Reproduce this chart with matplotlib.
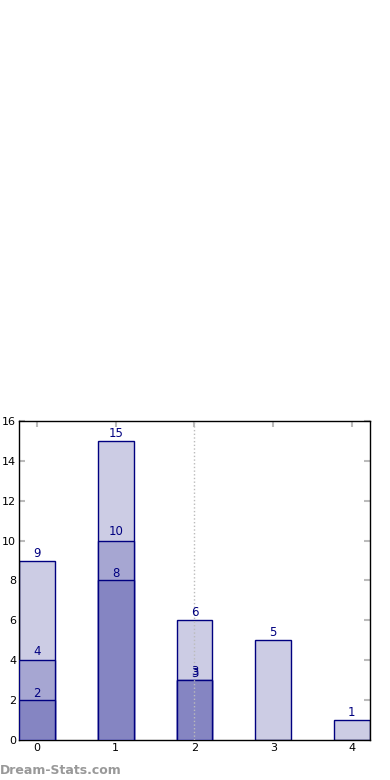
import numpy as np
import matplotlib
matplotlib.use("Agg")
import matplotlib.pyplot as plt

categories = [0, 1, 2, 3, 4]
light_vals = [9, 15, 6, 5, 1]
mid_vals = [4, 10, 3, 0, 0]
dark_vals = [2, 8, 3, 0, 0]
yticks = [0, 2, 4, 6, 8, 10, 12, 14, 16]

fig = plt.figure(figsize=(3.9, 7.8), dpi=100)
ax = fig.add_axes([0.0487, 0.0513, 0.9, 0.409])

w = 0.45
edge = "#000080"
series = [(light_vals, "#ccccE4", 2, 0.05),
          (mid_vals, "#a6a6d2", 3, 0.12),
          (dark_vals, "#8585c2", 4, 0.0)]
for vals, col, z, off in series:
    xs = [x for x, v in zip(categories, vals) if v]
    vs = [v for v in vals if v]
    ax.bar(xs, vs, width=w, color=col, edgecolor=edge, linewidth=1, zorder=z)
    for x, v in zip(xs, vs):
        ax.text(x, v + off, str(v), ha="center", va="bottom", fontsize=8.5, color=edge, zorder=6)

ax.axvline(2, color="#bbbbbb", linestyle=":", linewidth=1, zorder=5)

ax.set_xlim(-0.23, 4.23)
ax.set_ylim(0, 16)
ax.set_xticks(categories)
ax.set_yticks(yticks)
ax.tick_params(direction="in", color="#bbbbbb", width=1.5, length=4,
               labelsize=8, top=True, right=True, pad=2)
for s in ax.spines.values():
    s.set_linewidth(1)

fig.text(0.0, 0.004, "Dream-Stats.com", fontsize=9, fontweight="bold", color="#999999",
         ha="left", va="bottom")

fig.savefig("out.png", dpi=100)
